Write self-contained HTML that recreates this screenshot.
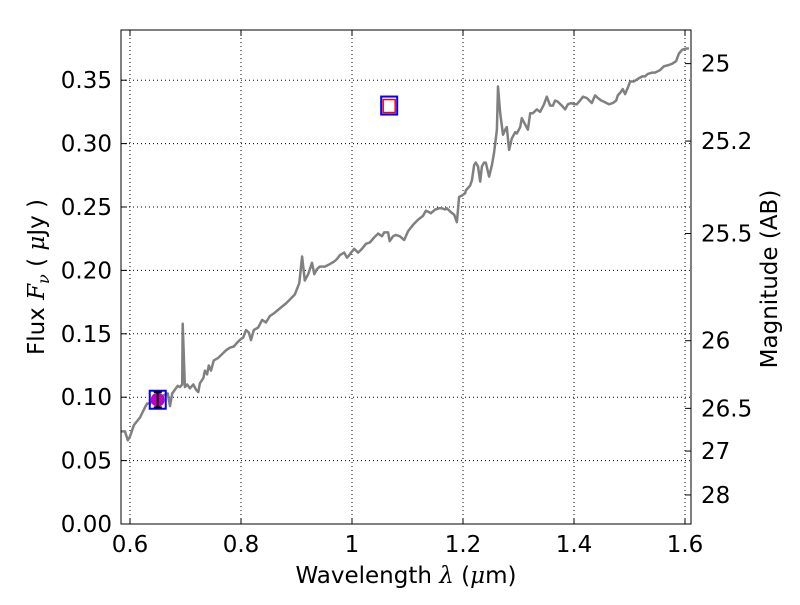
<!DOCTYPE html>
<html><head><meta charset="utf-8"><style>
body{margin:0;background:#fff}
svg text{font-family:"DejaVu Sans","Liberation Sans",sans-serif;fill:#000}
</style></head><body>
<svg id="chart" width="800" height="600" xmlns="http://www.w3.org/2000/svg"></svg>
<script>
const wavelengths=[0.584,0.591,0.596,0.600,0.607,0.618,0.627,0.631,0.636,0.645,0.654,0.663,0.668,0.672,0.676,0.681,0.686,0.690,0.694,0.695,0.699,0.703,0.708,0.714,0.719,0.723,0.726,0.732,0.735,0.739,0.742,0.746,0.751,0.759,0.766,0.773,0.780,0.787,0.793,0.800,0.804,0.809,0.814,0.818,0.823,0.831,0.838,0.845,0.852,0.859,0.870,0.881,0.888,0.897,0.905,0.910,0.915,0.921,0.928,0.932,0.937,0.942,0.951,0.960,0.968,0.973,0.978,0.986,0.991,0.995,1.000,1.004,1.011,1.018,1.025,1.032,1.040,1.047,1.054,1.058,1.065,1.068,1.074,1.079,1.086,1.094,1.101,1.110,1.119,1.128,1.133,1.139,1.142,1.150,1.157,1.162,1.168,1.171,1.178,1.184,1.189,1.193,1.198,1.204,1.205,1.213,1.216,1.220,1.223,1.227,1.231,1.234,1.238,1.241,1.247,1.252,1.256,1.261,1.263,1.267,1.272,1.276,1.279,1.283,1.288,1.294,1.297,1.303,1.306,1.312,1.317,1.321,1.326,1.333,1.339,1.346,1.351,1.357,1.362,1.366,1.371,1.378,1.384,1.389,1.395,1.400,1.405,1.411,1.416,1.423,1.432,1.438,1.443,1.449,1.454,1.463,1.470,1.476,1.479,1.483,1.488,1.492,1.497,1.501,1.508,1.515,1.523,1.528,1.533,1.541,1.546,1.551,1.555,1.562,1.571,1.577,1.584,1.589,1.595,1.602,1.607];
const fluxes=[0.073,0.073,0.066,0.069,0.078,0.084,0.092,0.095,0.095,0.099,0.100,0.102,0.103,0.093,0.103,0.106,0.109,0.108,0.110,0.158,0.108,0.110,0.107,0.110,0.106,0.104,0.111,0.115,0.121,0.118,0.125,0.121,0.129,0.131,0.134,0.137,0.139,0.140,0.143,0.146,0.147,0.153,0.151,0.145,0.153,0.155,0.161,0.159,0.164,0.166,0.170,0.174,0.177,0.181,0.190,0.211,0.192,0.197,0.206,0.197,0.201,0.203,0.203,0.205,0.207,0.209,0.212,0.214,0.210,0.212,0.215,0.217,0.214,0.217,0.221,0.222,0.226,0.229,0.227,0.230,0.230,0.223,0.227,0.228,0.227,0.224,0.231,0.236,0.240,0.243,0.247,0.246,0.245,0.248,0.249,0.249,0.248,0.249,0.246,0.244,0.238,0.258,0.259,0.261,0.263,0.267,0.271,0.283,0.285,0.282,0.270,0.282,0.285,0.285,0.274,0.283,0.293,0.311,0.345,0.324,0.307,0.311,0.313,0.295,0.304,0.309,0.308,0.313,0.320,0.315,0.311,0.324,0.324,0.327,0.325,0.331,0.337,0.330,0.330,0.334,0.333,0.330,0.327,0.331,0.332,0.331,0.331,0.334,0.337,0.336,0.332,0.338,0.336,0.334,0.333,0.331,0.332,0.334,0.338,0.340,0.343,0.339,0.344,0.349,0.349,0.351,0.353,0.353,0.355,0.356,0.356,0.357,0.358,0.361,0.362,0.363,0.365,0.371,0.374,0.375,0.375];
const xTicks=[0.6,0.8,1.0,1.2,1.4,1.6];
const xTickLabels=["0.6","0.8","1","1.2","1.4","1.6"];
const yTicks=[0,0.05,0.10,0.15,0.20,0.25,0.30,0.35];
const yTickLabels=["0.00","0.05","0.10","0.15","0.20","0.25","0.30","0.35"];
const magTicks=[25,25.2,25.5,26,26.5,27,28];
const magTickLabels=["25","25.2","25.5","26","26.5","27","28"];
const photLambda=[0.65];
const photFlux=[0.098];
const photErr=[0.006];
const synthLambda=[1.067];
const synthFlux=[0.330];

const L=121,R=691,T=30,B=524;
const X=v=>130+(v-0.6)*555;
const Y=v=>524-v*1268;
const svg=document.getElementById('chart');
const NS="http://www.w3.org/2000/svg";
function mk(tag,attrs,parent){const e=document.createElementNS(NS,tag);for(const k in attrs)e.setAttribute(k,attrs[k]);(parent||svg).appendChild(e);return e;}
const FS=23, TFS=23;

xTicks.forEach(t=>{const l=mk('line',{x1:X(t),x2:X(t),y1:T,y2:B,stroke:'#000','stroke-width':1,'stroke-dasharray':'1,3'});

});
yTicks.forEach(t=>{const l=mk('line',{x1:L,x2:R,y1:Y(t),y2:Y(t),stroke:'#000','stroke-width':1,'stroke-dasharray':'1,3'});

});

const pts=wavelengths.map((w,i)=>X(w).toFixed(1)+','+Y(fluxes[i]).toFixed(1)).join(' ');
const cp=mk('clipPath',{id:'pc'});mk('rect',{x:L,y:T,width:R-L,height:B-T},cp);
const sp=mk('polyline',{points:pts,fill:'none',stroke:'#808080','stroke-width':2.5,'clip-path':'url(#pc)','stroke-linejoin':'round'});



photLambda.forEach((w,i)=>{
const s=mk('rect',{x:X(w)-8,y:Y(photFlux[i])-9,width:16,height:18,fill:'none',stroke:'#00f','stroke-width':2});


const c=mk('circle',{cx:X(w),cy:Y(photFlux[i]),r:7,fill:'#bf00bf'});


const y1=Y(photFlux[i]+photErr[i]),y2=Y(photFlux[i]-photErr[i]),x=X(w);
const e=mk('path',{d:`M${x},${y1}V${y2}M${x-4},${y1}H${x+4}M${x-4},${y2}H${x+4}`,stroke:'#000','stroke-width':2,fill:'none'});


});
synthLambda.forEach((w,i)=>{
const o=mk('rect',{x:X(w)-8,y:Y(synthFlux[i])-9,width:16,height:18,fill:'none',stroke:'#00f','stroke-width':2});


const r=mk('rect',{x:X(w)-6,y:Y(synthFlux[i])-6,width:12,height:13,fill:'none',stroke:'#f00','stroke-width':1.5});


});

const fr=mk('rect',{x:L,y:T,width:R-L,height:B-T,fill:'none',stroke:'#000','stroke-width':1});



xTicks.forEach((t,i)=>{mk('line',{x1:X(t),x2:X(t),y1:B,y2:B-6,stroke:'#000'});mk('line',{x1:X(t),x2:X(t),y1:T,y2:T+6,stroke:'#000'});
const tx=mk('text',{x:X(t),y:B+28,'text-anchor':'middle','font-size':FS});tx.textContent=xTickLabels[i];

});
yTicks.forEach((t,i)=>{mk('line',{x1:L,x2:L+6,y1:Y(t),y2:Y(t),stroke:'#000'});
const tx=mk('text',{x:L-9,y:Y(t)+8,'text-anchor':'end','font-size':FS});tx.textContent=yTickLabels[i];

});
magTicks.forEach((m,i)=>{const f=Math.pow(10,(23.9-m)/2.5);const y=Y(f);
mk('line',{x1:R,x2:R-6,y1:y,y2:y,stroke:'#000'});
const tx=mk('text',{x:R+10,y:y+8,'text-anchor':'start','font-size':FS});tx.textContent=magTickLabels[i];

});

const xt=mk('text',{x:406,y:583,'text-anchor':'middle','font-size':TFS});
xt.innerHTML='Wavelength  <tspan font-style="italic" font-family="DejaVu Serif,serif">λ</tspan> (<tspan font-style="italic" font-family="DejaVu Serif,serif">μ</tspan>m)';


const yt=mk('text',{x:0,y:0,'text-anchor':'middle','font-size':TFS,transform:'translate(44,277) rotate(-90)'});
yt.innerHTML='Flux  <tspan font-style="italic" font-family="DejaVu Serif,serif">F</tspan><tspan font-style="italic" font-family="DejaVu Serif,serif" font-size="16" dy="5">ν</tspan><tspan dy="-5">  ( </tspan><tspan font-style="italic" font-family="DejaVu Serif,serif">μ</tspan>Jy )';


const rt=mk('text',{x:0,y:0,'text-anchor':'middle','font-size':TFS,transform:'translate(777,279) rotate(-90)'});
rt.textContent='Magnitude (AB)';


</script>
</body></html>
